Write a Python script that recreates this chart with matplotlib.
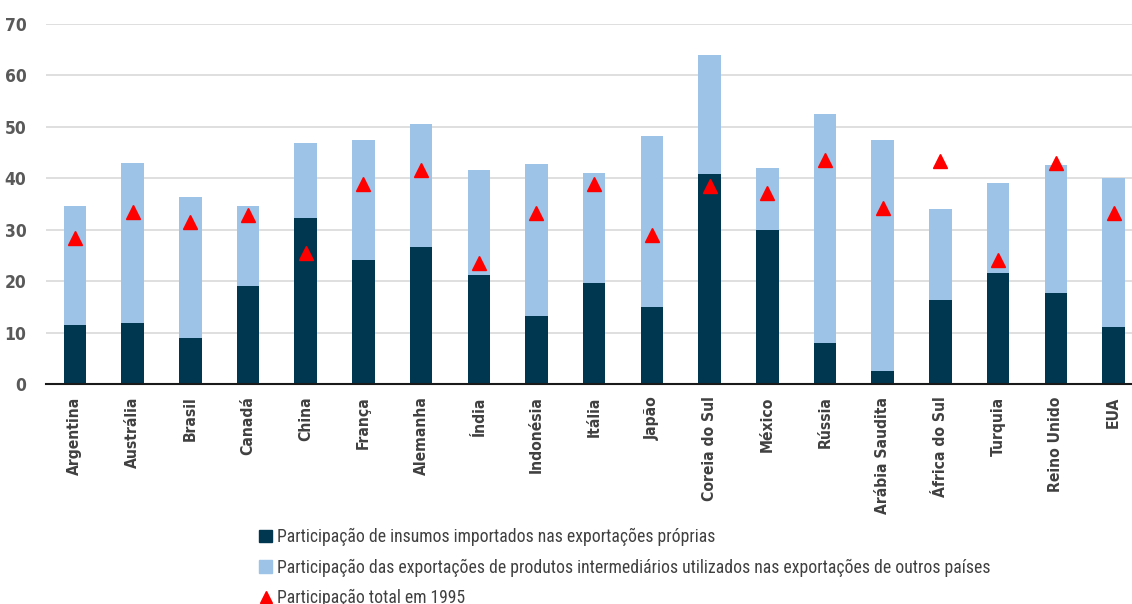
import matplotlib
matplotlib.use("Agg")
import matplotlib.pyplot as plt
from matplotlib.patches import Patch
from matplotlib.lines import Line2D
from matplotlib import font_manager as fm
import numpy as np

categories = ["Argentina", "Austrália", "Brasil", "Canadá", "China", "França", "Alemanha",
              "Índia", "Indonésia", "Itália", "Japão", "Coreia do Sul", "México", "Rússia",
              "Arábia Saudita", "África do Sul", "Turquia", "Reino Unido", "EUA"]
# totals (top of stacked bars)
total_2011 = [34.5, 43.0, 36.3, 34.5, 46.8, 47.5, 50.5, 41.5, 42.7, 41.0, 48.2, 64.0,
              42.0, 52.5, 47.5, 34.0, 39.0, 42.6, 40.0]
own_imports = [11.5, 11.9, 8.9, 19.0, 32.3, 24.0, 26.6, 21.2, 13.2, 19.6, 15.0, 40.8,
               30.0, 8.0, 2.5, 16.4, 21.6, 17.6, 11.1]
total_1995 = [28.4, 33.5, 31.4, 32.9, 25.4, 38.9, 41.5, 23.6, 33.3, 38.9, 28.9, 38.4,
              37.2, 43.6, 34.1, 43.3, 24.0, 43.0, 33.2]
other_exports = [t - o for t, o in zip(total_2011, own_imports)]

labels = ["Participação de insumos importados nas exportações próprias",
          "Participação das exportações de produtos intermediários utilizados nas exportações de outros países",
          "Participação total em 1995"]

dark = "#003750"
light = "#9DC3E6"
red = "#FF0000"

fl = fm.fontManager.ttflist

def is_regular(f):
    return f.weight in (400, "normal", "regular")

def is_narrow(f):
    s = str(f.stretch)
    return ("condensed" in s or "Condensed" in f.fname or "Narrow" in f.fname
            or "Condensed" in f.name or "Narrow" in f.name)

# a narrow/condensed font for the legend if one is installed
cand = None
pref = ["Liberation Sans Narrow", "Roboto Condensed", "Open Sans Condensed",
        "Noto Sans Condensed", "DejaVu Sans Condensed"]
for p in pref:
    for f in fl:
        if f.name == p and is_regular(f) and f.style == "normal":
            cand = f.fname
            break
    if cand:
        break
if cand is None:
    for f in fl:
        if is_narrow(f) and f.style == "normal" and is_regular(f):
            cand = f.fname
            break

def legend_prop(size):
    if cand:
        return fm.FontProperties(fname=cand, size=size)
    return fm.FontProperties(family="DejaVu Sans", stretch="condensed", size=size)

def tick_prop(size):
    return fm.FontProperties(family="DejaVu Sans", weight="bold", stretch="condensed", size=size)

fig = plt.figure(figsize=(11.32, 6.04), dpi=100)
ax = fig.add_axes([46/1132, 1 - 384/604, 1 - 46/1132, (384 - 23.7)/604])

x = np.arange(len(categories))
w = 0.39
ax.bar(x, own_imports, width=w, color=dark, zorder=2)
ax.bar(x, other_exports, width=w, bottom=own_imports, color=light, zorder=2)
ax.plot(x, total_1995, linestyle="none", marker="^", color=red, markersize=10, zorder=3)

ax.set_ylim(0, 70)
ax.set_xlim(-0.5, 18.32)
ax.set_yticks(range(0, 71, 10))
ax.yaxis.grid(True, color="#D9D9D9", linewidth=1.2, zorder=0)
ax.set_axisbelow(True)
for s in ["top", "right", "left"]:
    ax.spines[s].set_visible(False)
ax.spines["bottom"].set_color("#1a1a1a")
ax.spines["bottom"].set_linewidth(1.5)
ax.tick_params(axis="both", length=0)
ax.tick_params(axis="y", pad=14)
ax.tick_params(axis="x", pad=9)
ax.set_xticks(x)
ax.set_xticklabels(categories, rotation=90, color="#404040")
renderer = fig.canvas.get_renderer()
# scale category labels so "Coreia do Sul" spans about 105 px as in the reference
probe = fig.text(0, 0, "Coreia do Sul", fontproperties=tick_prop(12))
cw = probe.get_window_extent(renderer).width
probe.remove()
xsize = min(14.0, 12 * 105.0 / cw)
for lab in ax.get_xticklabels():
    lab.set_fontproperties(tick_prop(xsize))
for lab in ax.get_yticklabels():
    lab.set_fontproperties(tick_prop(12.5))
    lab.set_color("#595959")

# size the legend text so the longest label spans about 710 px as in the reference
probe = fig.text(0, 0, labels[1], fontproperties=legend_prop(12))
wpx = probe.get_window_extent(renderer).width
probe.remove()
lsize = min(14.0, 12 * 708.0 / wpx)

handles = [Patch(facecolor=dark, edgecolor=dark),
           Patch(facecolor=light, edgecolor=light),
           Line2D([0], [0], linestyle="none", marker="^", color=red, markersize=9)]
fig.legend(handles, labels, loc="upper left", bbox_to_anchor=(259/1132, 1 - 528/604),
           frameon=False, handlelength=0.75, handleheight=0.75, handletextpad=0.25,
           labelspacing=9.0 / lsize, prop=legend_prop(lsize),
           labelcolor="#404040", borderpad=0, borderaxespad=0)
fig.savefig("out.png", dpi=100)
